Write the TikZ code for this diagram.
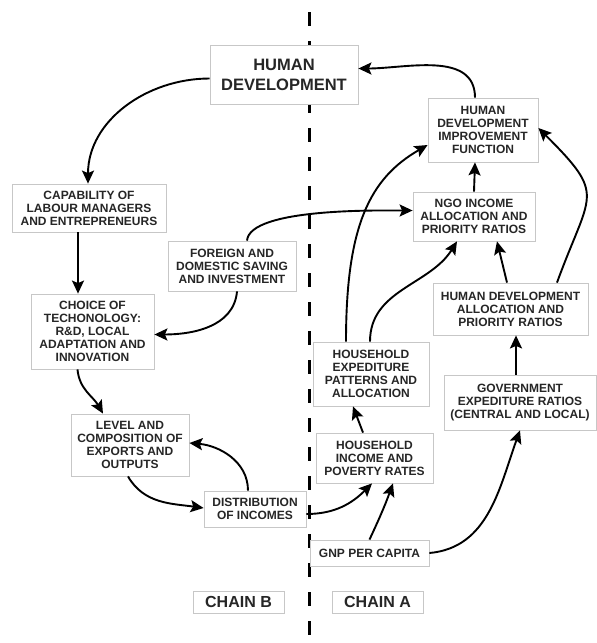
\documentclass[tikz,border=0pt]{standalone}
\usepackage{fontspec}
\setmainfont{Liberation Sans}
\usetikzlibrary{arrows.meta, positioning}

\begin{document}
\begin{tikzpicture}[x=1pt, y=-1pt]
    \tikzstyle{box} = [rectangle, draw=black!22, line width=0.8pt, fill=white, inner sep=0pt, align=center, text=black!85, font=\bfseries\fontsize{12}{13}\selectfont]
    \tikzstyle{title} = [box, font=\bfseries\fontsize{16.5}{20}\selectfont]
    \tikzstyle{chain} = [box, font=\bfseries\fontsize{16}{18}\selectfont]
    \tikzstyle{arrow} = [line width=1.9pt, -{Stealth[length=13pt, width=12pt, inset=2.5pt]}]
    \tikzstyle{divider} = [line width=3pt, dash pattern=on 14pt off 15pt]

    \useasboundingbox (0,0) rectangle (597,643);

    % dividing line between the two chains
    \coordinate (divtop) at (309,12);
    \coordinate (divbot) at (309,643);
    \draw [divider] (divtop) -- (divbot);

    % chain B
    \node (hd) [title, minimum width=148pt, minimum height=59pt] at (284,74.5) {HUMAN\\DEVELOPMENT};
    \node (cap) [box, minimum width=154pt, minimum height=48pt] at (89,208) {CAPABILITY OF\\LABOUR MANAGERS\\AND ENTREPRENEURS};
    \node (saving) [box, minimum width=128pt, minimum height=50pt] at (232,266) {FOREIGN AND\\DOMESTIC SAVING\\AND INVESTMENT};
    \node (choice) [box, minimum width=123pt, minimum height=75pt] at (92.5,331.5) {CHOICE OF\\TECHONOLOGY:\\R\&D, LOCAL\\ADAPTATION AND\\INNOVATION};
    \node (level) [box, minimum width=118pt, minimum height=62pt] at (130,445) {LEVEL AND\\COMPOSITION OF\\EXPORTS AND\\OUTPUTS};
    \node (dist) [box, minimum width=102pt, minimum height=36pt] at (255,509) {DISTRIBUTION\\OF INCOMES};
    \node (chainb) [chain, minimum width=91pt, minimum height=22pt] at (238.5,602) {CHAIN B};

    % chain A
    \node (hdif) [box, minimum width=110pt, minimum height=64pt] at (483,130) {HUMAN\\DEVELOPMENT\\IMPROVEMENT\\FUNCTION};
    \node (ngo) [box, minimum width=122pt, minimum height=49pt] at (474,216.5) {NGO INCOME\\ALLOCATION AND\\PRIORITY RATIOS};
    \node (hdap) [box, minimum width=155pt, minimum height=52pt] at (510.5,309) {HUMAN DEVELOPMENT\\ALLOCATION AND\\PRIORITY RATIOS};
    \node (hhexp) [box, minimum width=116pt, minimum height=64pt] at (371,374) {HOUSEHOLD\\EXPEDITURE\\PATTERNS AND\\ALLOCATION};
    \node (gov) [box, minimum width=152pt, minimum height=55pt] at (520,402.5) {GOVERNMENT\\EXPEDITURE RATIOS\\(CENTRAL AND LOCAL)};
    \node (hhinc) [box, minimum width=117pt, minimum height=50pt] at (374.5,458) {HOUSEHOLD\\INCOME AND\\POVERTY RATES};
    \node (gnp) [box, minimum width=119pt, minimum height=26pt] at (369.5,553) {GNP PER CAPITA};
    \node (chaina) [chain, minimum width=91pt, minimum height=22pt] at (377.5,602) {CHAIN A};

    % chain B links
    \draw [arrow] ([yshift=-4pt]hd.west) to[out=180, in=90] ([xshift=-1pt]cap.north);
    \draw [arrow] ([xshift=-11pt]cap.south) -- ([xshift=-11pt]cap.south |- choice.north);
    \draw [arrow] ([xshift=5pt]saving.south) to[out=-95, in=0] ([yshift=-3pt]choice.east);
    \draw [arrow] ([xshift=15pt]saving.north) to[out=85, in=180, looseness=0.5] ([yshift=6pt]ngo.west);
    \draw [arrow] ([xshift=-15pt]choice.south) to[out=-85, in=120] ([xshift=-27pt]level.north);
    \draw [arrow] ([xshift=-2pt]level.south) to[out=-60, in=172] ([yshift=1pt]dist.west);
    \draw [arrow] ([xshift=-7pt]dist.north) to[out=90, in=-5] ([yshift=2pt]level.east);
    \draw [arrow] ([yshift=-5pt]dist.east) to[out=0, in=-135] ([xshift=-2.5pt]hhinc.south);

    % chain A links
    \draw [arrow] ([xshift=-8pt]hdif.north) to[out=90, in=0] ([yshift=6pt]hd.east);
    \draw [arrow] (ngo.north) -- ([xshift=-8pt]hdif.south);
    \draw [arrow] ([xshift=-3.5pt]hdap.north) -- ([xshift=23pt]ngo.south);
    \draw [arrow] ([xshift=46.5pt]hdap.north) to[out=70, in=-45, looseness=1.6] ([yshift=2pt]hdif.east);
    \draw [arrow] ([xshift=-4pt]gov.north) -- ([xshift=-4pt]gov.north |- hdap.south);
    \draw [arrow] ([xshift=-25pt]hhexp.north) to[out=90, in=210, out looseness=1.4, in looseness=0.8] ([yshift=-15pt]hdif.west);
    \draw [arrow] ([xshift=-1pt]hhexp.north) to[out=90, in=-122] ([xshift=-17pt]ngo.south);
    \draw [arrow] ([xshift=-11.5pt]hhinc.north) -- ([xshift=-18pt]hhexp.south);
    \draw [arrow] (gnp.north) to[out=65, in=-110] ([xshift=18.5pt]hhinc.south);
    \draw [arrow] (gnp.east) to[out=5, in=-110] (gov.south);
\end{tikzpicture}
\end{document}
